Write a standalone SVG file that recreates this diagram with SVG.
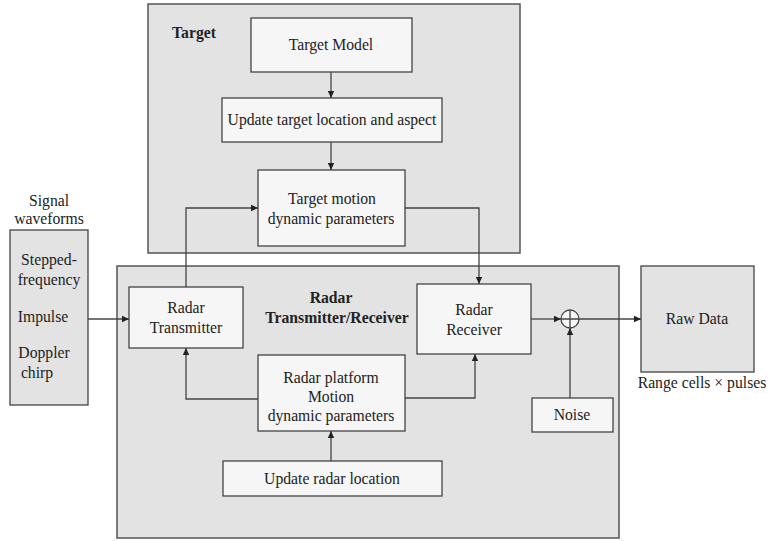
<svg xmlns="http://www.w3.org/2000/svg" width="769" height="541" viewBox="0 0 769 541">
<style>
text{font-size:15.7px;fill:#222;text-anchor:middle}
.b{font-weight:bold}
.grp{fill:#e3e3e3;stroke:#555;stroke-width:1.5}
.box{fill:#f6f6f6;stroke:#444;stroke-width:1.3}
.gbox{fill:#e3e3e3;stroke:#444;stroke-width:1.3}
.c{fill:none;stroke:#444;stroke-width:1.3}
</style>
<defs>
<marker id="ah" markerWidth="8" markerHeight="8" refX="7" refY="4" orient="auto" markerUnits="userSpaceOnUse">
<path d="M0,0.8 L7,4 L0,7.2 Z" fill="#222"/>
</marker>
</defs>
<g font-family="Liberation Serif, Times New Roman, serif">
<g id="target-group">
<rect class="grp" x="148" y="4" width="372" height="249"/>
<text class="b" x="194" y="38" font-family="Liberation Serif">Target</text>
</g>
<g id="radar-group">
<rect class="grp" x="117" y="266" width="502" height="272"/>
<text class="b" x="331" y="303" font-family="Liberation Serif">Radar</text>
<text class="b" x="337" y="323" font-family="Liberation Serif">Transmitter/Receiver</text>
</g>
<g id="signal">
<rect class="gbox" x="10" y="230" width="78" height="175"/>
<text x="49" y="206" font-family="Liberation Serif">Signal</text>
<text x="49" y="224" font-family="Liberation Serif">waveforms</text>
<text x="49" y="265" font-family="Liberation Serif">Stepped-</text>
<text x="49" y="285" font-family="Liberation Serif">frequency</text>
<text x="43" y="322" font-family="Liberation Serif">Impulse</text>
<text x="44" y="358" font-family="Liberation Serif">Doppler</text>
<text x="37" y="378" font-family="Liberation Serif">chirp</text>
</g>
<g id="target-model">
<rect class="box" x="251" y="18" width="161" height="54"/>
<text x="331" y="50" font-family="Liberation Serif">Target Model</text>
</g>
<g id="update-target">
<rect class="box" x="222" y="98" width="220" height="44"/>
<text x="332" y="125" font-family="Liberation Serif">Update target location and aspect</text>
</g>
<g id="target-motion">
<rect class="box" x="258" y="170" width="147" height="76"/>
<text x="332" y="204" font-family="Liberation Serif">Target motion</text>
<text x="331" y="224" font-family="Liberation Serif">dynamic parameters</text>
</g>
<g id="radar-transmitter">
<rect class="box" x="129" y="287" width="114" height="61"/>
<text x="186" y="313" font-family="Liberation Serif">Radar</text>
<text x="186" y="333" font-family="Liberation Serif">Transmitter</text>
</g>
<g id="radar-receiver">
<rect class="box" x="417" y="284" width="114" height="70"/>
<text x="474" y="315" font-family="Liberation Serif">Radar</text>
<text x="474" y="335" font-family="Liberation Serif">Receiver</text>
</g>
<g id="radar-platform">
<rect class="box" x="258" y="355" width="147" height="76"/>
<text x="331" y="383" font-family="Liberation Serif">Radar platform</text>
<text x="331" y="402" font-family="Liberation Serif">Motion</text>
<text x="331" y="421" font-family="Liberation Serif">dynamic parameters</text>
</g>
<g id="update-radar">
<rect class="box" x="223" y="461" width="219" height="35"/>
<text x="332" y="484" font-family="Liberation Serif">Update radar location</text>
</g>
<g id="noise">
<rect class="box" x="532" y="398" width="81" height="34"/>
<text x="572" y="420" font-family="Liberation Serif">Noise</text>
</g>
<g id="sum">
<circle cx="570" cy="319" r="9" fill="#f6f6f6" stroke="#444" stroke-width="1.3"/>
<path class="c" d="M561,319 H579 M570,310 V328"/>
</g>
<g id="raw-data">
<rect class="gbox" x="641" y="266" width="113" height="106"/>
<text x="697" y="324" font-family="Liberation Serif">Raw Data</text>
<text x="702" y="388" font-family="Liberation Serif">Range cells × pulses</text>
</g>
</g>
<g id="connectors">
<path class="c" d="M331,72 V98" marker-end="url(#ah)"/>
<path class="c" d="M331,142 V170" marker-end="url(#ah)"/>
<path class="c" d="M88,319 H129" marker-end="url(#ah)"/>
<path class="c" d="M186,287 V208 H258" marker-end="url(#ah)"/>
<path class="c" d="M405,208 H479 V284" marker-end="url(#ah)"/>
<path class="c" d="M258,399 H186 V348" marker-end="url(#ah)"/>
<path class="c" d="M405,398 H475 V354" marker-end="url(#ah)"/>
<path class="c" d="M331,461 V431" marker-end="url(#ah)"/>
<path class="c" d="M531,319 H561" marker-end="url(#ah)"/>
<path class="c" d="M570,398 V328" marker-end="url(#ah)"/>
<path class="c" d="M579,319 H641" marker-end="url(#ah)"/>
</g>
</svg>
